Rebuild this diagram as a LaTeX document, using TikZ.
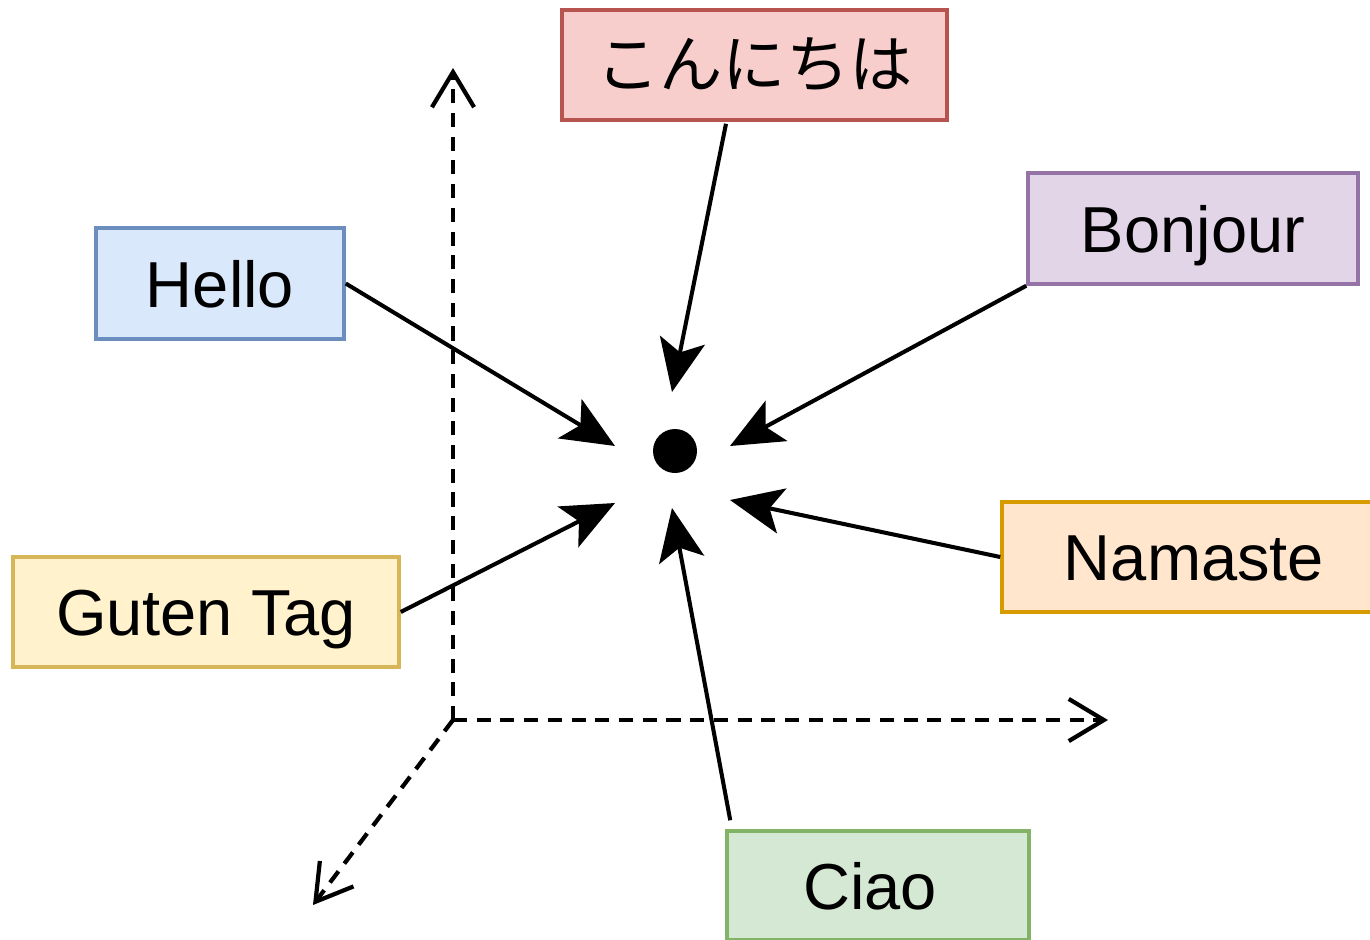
\documentclass[tikz,border=0pt]{standalone}
\usepackage{fontspec}
\setmainfont{Liberation Sans}
\newfontfamily\jpfont{Noto Sans CJK JP}
\usetikzlibrary{arrows.meta,calc}
\definecolor{redF}{HTML}{F8CECC}\definecolor{redD}{HTML}{B85450}
\definecolor{purF}{HTML}{E1D5E7}\definecolor{purD}{HTML}{9673A6}
\definecolor{bluF}{HTML}{DAE8FC}\definecolor{bluD}{HTML}{6C8EBF}
\definecolor{oraF}{HTML}{FFE6CC}\definecolor{oraD}{HTML}{D79B00}
\definecolor{yelF}{HTML}{FFF2CC}\definecolor{yelD}{HTML}{D6B656}
\definecolor{grnF}{HTML}{D5E8D4}\definecolor{grnD}{HTML}{82B366}
\tikzset{
  word/.style={draw=#1D, fill=#1F, line width=2pt, inner sep=0pt,
    font=\fontsize{37}{44}\selectfont, text=black},
  latin/.style={text height=29pt, text depth=2pt},
  conn/.style={line width=2.3pt, -{Stealth[length=30pt,width=26pt,inset=7pt]}},
  axis/.style={line width=2.4pt, dash pattern=on 8pt off 5.5pt,
    -{Straight Barb[length=20pt,width=24pt,line width=2.4pt]}},
}
\begin{document}
\begin{tikzpicture}[x=0.02cm,y=-0.02cm]
\useasboundingbox (0,0) rectangle (1370,940);
% axes
\coordinate (O) at (453,720);
\coordinate (Yend) at (453,68);
\coordinate (Xend) at (1108,720);
\coordinate (Zend) at (313,905);
\draw[axis] (O) -- (Yend);
\draw[axis] (O) -- (Xend);
\draw[axis] (O) -- (Zend);
% boxes
\node[word=red, minimum width=385*0.02cm, minimum height=110*0.02cm] (kon) at (754.5,65) {\jpfont\fontsize{36}{44}\selectfont こんにちは};
\node[word=pur, latin, minimum width=330*0.02cm, minimum height=111*0.02cm] (bon) at (1193,228.5) {Bonjour};
\node[word=blu, latin, minimum width=248*0.02cm, minimum height=111*0.02cm] (hel) at (220,283.5) {Hello};
\node[word=ora, latin, minimum width=370*0.02cm, minimum height=110*0.02cm] (nam) at (1187,557) {\hspace{8pt}Namaste};
\node[word=yel, latin, minimum width=386*0.02cm, minimum height=110*0.02cm] (gut) at (206,612) {Guten Tag};
\node[word=grn, latin, minimum width=302*0.02cm, minimum height=109*0.02cm] (cia) at (878,885.5) {\hspace*{-9pt}Ciao};
% dot
\node[circle, fill=black, minimum size=44*0.02cm, inner sep=0pt] (dot) at (675,451) {};
% targets
\coordinate (tHel) at (615,446);
\coordinate (tKon) at (672,392);
\coordinate (tBon) at (730,446);
\coordinate (tNam) at (730,500);
\coordinate (tGut) at (615,503);
\coordinate (tCia) at (672,508);
% connectors
\draw[conn] (hel.east) -- (tHel);
\draw[conn] ($(kon.south)+(-28.5,2)$) -- (tKon);
\draw[conn] (bon.south west) -- (tBon);
\draw[conn] (nam.west) -- (tNam);
\draw[conn] (gut.east) -- (tGut);
\draw[conn] ($(cia.north west)+(5,-9)$) -- (tCia);
\end{tikzpicture}
\end{document}
